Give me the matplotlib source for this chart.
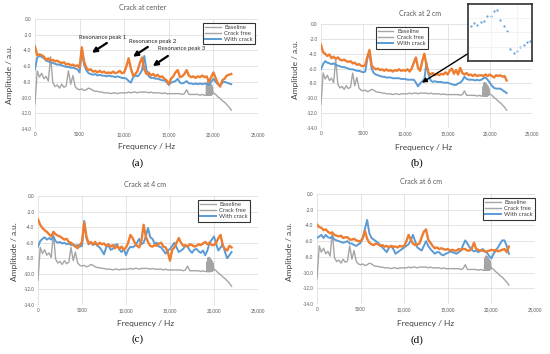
import matplotlib
matplotlib.use("Agg")
import matplotlib.pyplot as plt
import numpy as np

plt.rcParams['font.family'] = ['Lato', 'DejaVu Sans']

# frequency grid (Hz) shared by all series
freq = np.arange(0, 22001, 250)

baseline = [
    -10.8, -6.6, -7.4, -6.9, -7.6, -7.3, -7.9, -4.8, -8.1, -8.6,
    -8.4, -8.8, -8.3, -8.7, -8.5, -6.6, -8.3, -7.2, -8.6, -8.9,
    -9.0, -8.9, -9.1, -9.0, -8.8, -8.9, -9.1, -9.2, -9.2, -9.3,
    -9.3, -9.4, -9.4, -9.4, -9.5, -9.4, -9.4, -9.5, -9.4, -9.4,
    -9.4, -9.4, -9.3, -9.4, -9.3, -9.3, -9.4, -9.3, -9.3, -9.3,
    -9.3, -9.4, -9.3, -9.4, -9.4, -9.4, -9.4, -9.5, -9.4, -9.5,
    -9.5, -9.5, -9.5, -9.5, -9.5, -9.5, -9.6, -9.5, -9.0, -9.6,
    -9.6, -9.6, -9.6, -9.6, -9.7, -9.6, -9.7, -9.7, -9.7, -9.6,
    -9.4, -9.6, -9.9, -10.1, -10.4, -10.6, -10.9, -11.2, -11.6]

# dense ringing of the baseline near 19.5 kHz
burst_freq = [19200, 19230, 19260, 19290, 19320, 19350, 19380, 19410, 19440,
              19470, 19500, 19530, 19560, 19590, 19620, 19650, 19680, 19710,
              19740, 19770, 19800, 19830, 19860, 19890, 19920, 19950]
burst_amp = [-9.6, -8.4, -9.7, -8.1, -9.7, -7.9, -9.7, -7.9, -9.7, -8.0,
             -9.7, -8.0, -9.7, -8.1, -9.7, -8.2, -9.7, -8.3, -9.7, -8.4,
             -9.6, -8.5, -9.6, -8.7, -9.5, -9.3]

a_free = [
    -6.4, -4.9, -4.7, -4.8, -5.0, -5.3, -5.4, -5.5, -5.6, -5.7,
    -5.8, -5.8, -5.9, -6.0, -6.1, -6.1, -6.2, -6.2, -6.3, -6.4,
    -6.8, -4.0, -5.8, -6.5, -6.9, -7.0, -7.1, -7.0, -7.2, -7.1,
    -7.2, -7.2, -7.3, -7.2, -7.3, -7.3, -7.4, -7.3, -7.4, -7.5,
    -7.5, -7.6, -7.9, -8.1, -7.4, -7.2, -7.3, -7.0, -6.5, -4.7,
    -6.5, -7.3, -7.5, -7.5, -7.6, -7.6, -7.7, -7.8, -7.8, -8.0,
    -8.4, -8.1, -8.0, -7.9, -7.6, -8.1, -8.2, -8.1, -7.9, -8.2,
    -8.2, -8.3, -8.2, -8.3, -8.2, -8.3, -8.2, -8.3, -8.4, -8.0,
    -7.6, -8.0, -8.3, -8.5, -8.1, -8.0, -8.1, -8.2, -8.3]
a_crack = [
    -3.5, -4.6, -4.5, -4.6, -4.8, -5.2, -5.0, -5.3, -5.2, -5.4,
    -5.3, -5.5, -5.6, -5.5, -5.8, -5.7, -5.9, -5.8, -6.0, -5.9,
    -6.2, -3.6, -5.4, -6.2, -6.5, -6.4, -6.7, -6.6, -6.8, -6.6,
    -6.8, -6.7, -6.9, -6.8, -6.9, -6.7, -6.9, -6.8, -6.6, -6.9,
    -6.8, -6.0, -5.0, -6.3, -7.2, -7.0, -6.6, -5.6, -4.9, -6.4,
    -7.0, -6.8, -7.2, -7.0, -7.3, -7.1, -7.4, -7.3, -7.6, -7.8,
    -8.3, -7.6, -7.3, -6.8, -6.5, -7.4, -7.3, -7.0, -6.5, -7.2,
    -7.4, -7.3, -7.5, -7.3, -7.4, -7.2, -7.4, -7.3, -8.0, -7.4,
    -6.8, -7.5, -8.2, -8.6, -7.8, -7.6, -7.2, -7.1, -7.0]

b_free = [
    -6.1, -5.4, -5.0, -5.2, -5.3, -5.4, -5.3, -5.5, -5.6, -5.7,
    -5.8, -5.8, -5.9, -6.0, -6.1, -6.1, -6.2, -6.3, -6.3, -6.4,
    -6.5, -6.4, -4.6, -3.7, -6.0, -6.6, -6.8, -6.9, -7.0, -7.1,
    -7.1, -7.2, -7.2, -7.2, -7.3, -7.3, -7.3, -7.3, -7.4, -7.4,
    -7.4, -7.5, -7.5, -7.5, -7.5, -7.9, -8.4, -8.0, -7.7, -7.4,
    -5.2, -6.8, -7.6, -7.8, -7.7, -7.8, -7.8, -7.8, -7.9, -7.9,
    -7.9, -8.0, -8.1, -8.2, -8.2, -8.0, -7.9, -7.6, -7.1, -7.4,
    -7.5, -7.5, -7.5, -7.6, -7.5, -7.6, -7.5, -7.3, -7.2, -7.5,
    -7.9, -8.3, -8.6, -8.7, -8.7, -8.7, -8.9, -9.1, -9.3]
b_crack = [
    -2.8, -3.8, -4.0, -4.3, -4.1, -4.6, -4.4, -4.7, -4.5, -4.8,
    -4.9, -4.8, -5.0, -5.1, -5.0, -5.3, -5.2, -5.5, -5.4, -5.6,
    -5.7, -5.5, -4.4, -3.5, -5.6, -5.9, -6.1, -6.0, -6.2, -6.1,
    -6.3, -6.1, -6.3, -6.2, -6.4, -6.2, -6.3, -6.1, -6.3, -6.2,
    -6.3, -6.1, -6.4, -6.0, -5.2, -4.5, -5.9, -6.3, -5.0, -4.0,
    -5.6, -6.6, -6.8, -6.6, -6.9, -6.7, -6.9, -6.7, -6.8, -6.5,
    -6.8, -6.3, -6.0, -6.7, -6.2, -6.8, -5.9, -6.6, -6.8, -6.6,
    -6.9, -6.8, -7.0, -6.8, -7.0, -6.9, -6.9, -7.0, -6.8, -7.0,
    -6.8, -7.0, -7.2, -6.9, -7.0, -6.9, -7.1, -7.0, -7.6]

c_free = [
    -6.5, -5.8, -5.5, -5.3, -5.6, -5.4, -5.6, -5.2, -5.8, -6.0,
    -5.9, -6.1, -6.0, -6.2, -6.1, -6.3, -6.2, -6.4, -6.3, -6.5,
    -6.4, -3.2, -5.4, -6.2, -6.0, -6.3, -6.1, -6.4, -6.6, -7.0,
    -7.5, -6.6, -6.3, -6.9, -6.8, -6.3, -6.2, -6.9, -7.2, -6.8,
    -7.6, -6.9, -6.5, -6.6, -6.4, -6.0, -5.5, -6.2, -6.0, -5.2,
    -4.1, -5.3, -5.5, -6.1, -6.0, -6.5, -6.6, -7.0, -7.4, -7.0,
    -6.8, -6.4, -6.0, -6.6, -7.2, -7.0, -6.8, -6.4, -6.5, -7.0,
    -7.3, -6.9, -6.8, -7.1, -7.3, -7.0, -7.6, -7.0, -6.0, -5.6,
    -5.2, -6.2, -7.0, -6.6, -6.2, -7.2, -8.0, -7.6, -7.2]
c_crack = [
    -3.0, -3.7, -4.1, -4.4, -4.6, -4.9, -5.2, -4.6, -4.9, -5.1,
    -5.2, -5.4, -5.6, -5.5, -5.9, -6.0, -6.3, -6.5, -6.7, -6.3,
    -5.9, -3.4, -5.2, -6.1, -5.9, -6.2, -5.9, -6.3, -6.0, -6.2,
    -6.1, -6.4, -6.2, -6.5, -6.3, -6.7, -6.4, -6.8, -6.5, -6.9,
    -6.6, -6.0, -5.0, -5.4, -6.0, -6.4, -6.6, -5.8, -3.7, -5.2,
    -5.9, -6.4, -6.5, -6.3, -6.4, -6.1, -6.0, -6.5, -6.6, -7.2,
    -8.3, -6.9, -6.6, -6.0, -5.4, -6.0, -6.4, -6.3, -6.5, -6.2,
    -6.3, -6.5, -6.4, -6.2, -6.3, -6.1, -5.9, -6.2, -6.0, -6.3,
    -6.3, -6.0, -5.4, -5.0, -6.4, -6.8, -7.0, -6.4, -6.6]

d_free = [
    -5.6, -5.4, -5.2, -5.6, -5.2, -5.5, -5.6, -5.4, -5.8, -5.9,
    -6.0, -6.1, -6.2, -6.1, -6.0, -6.3, -6.3, -6.5, -6.6, -6.4,
    -6.2, -5.6, -4.4, -3.3, -5.0, -5.6, -5.8, -6.0, -6.2, -6.5,
    -6.8, -7.1, -7.4, -6.8, -6.6, -7.0, -7.6, -7.4, -7.2, -7.0,
    -6.8, -6.6, -6.4, -5.9, -5.2, -6.0, -6.8, -7.0, -7.2, -6.6,
    -6.0, -6.6, -7.0, -7.3, -7.6, -7.4, -7.4, -7.7, -7.8, -7.6,
    -7.5, -7.3, -7.4, -7.5, -7.6, -7.4, -7.2, -6.5, -5.9, -6.3,
    -6.8, -7.1, -7.3, -7.2, -7.4, -7.2, -7.0, -7.3, -7.5, -7.9,
    -8.2, -7.6, -7.2, -6.8, -6.3, -5.9, -5.9, -6.6, -7.6]
d_crack = [
    -3.9, -4.2, -4.3, -4.6, -4.5, -4.8, -5.0, -4.9, -5.2, -5.3,
    -5.4, -5.3, -5.6, -5.5, -5.5, -5.8, -5.8, -5.7, -5.9, -6.0,
    -6.0, -5.6, -4.7, -5.7, -6.2, -6.4, -6.5, -6.3, -6.4, -6.6,
    -6.5, -6.7, -6.6, -6.8, -6.6, -6.7, -6.7, -6.8, -6.6, -6.7,
    -6.6, -6.0, -5.2, -5.8, -6.3, -6.5, -6.4, -6.3, -5.5, -4.8,
    -4.5, -5.8, -6.2, -6.6, -6.9, -6.8, -7.0, -6.9, -7.0, -7.1,
    -7.0, -7.2, -7.1, -7.2, -7.2, -7.0, -7.1, -7.0, -7.0, -7.2,
    -7.2, -6.9, -6.2, -7.0, -7.1, -7.2, -7.2, -7.3, -7.3, -7.2,
    -7.1, -7.2, -7.1, -7.3, -7.2, -7.1, -7.0, -7.4, -6.7]

# zoomed detail shown in the inset of panel (b)
inset_freq = [11600, 11625, 11650, 11675, 11700, 11725, 11750, 11775, 11800,
              11825, 11850, 11875, 11900, 11925, 11950, 11975, 12000, 12025, 12050]
inset_amp = [-7.86, -7.80, -7.84, -7.79, -7.75, -7.65, -7.65, -7.56, -7.53,
             -7.73, -7.86, -7.97, -8.34, -8.44, -8.39, -8.30, -8.26, -8.21, -8.18]

titles = ['Crack at center', 'Crack at 2 cm', 'Crack at 4 cm', 'Crack at 6 cm']
letters = ['(a)', '(b)', '(c)', '(d)']
series_names = ['Baseline', 'Crack free', 'With crack']
xticks = [0, 5000, 10000, 15000, 20000, 25000]
xtick_labels = ['0', '5000', '10,000', '15,000', '20,000', '25,000']
yticks = [0, -2, -4, -6, -8, -10, -12, -14]
ytick_labels = ['0.0', '-2.0', '-4.0', '-6.0', '-8.0', '-10.0', '-12.0', '-14.0']

GRAY = '#a5a5a5'
BLUE = '#5b9bd5'
ORANGE = '#ed7d31'
TXT = '#595959'

fig = plt.figure(figsize=(5.5, 3.54), dpi=100)


def panel(rect, free, crack, title, letter, title_xy, ylab_xy, xlab_xy, let_xy, leg_anchor, leg_loc):
    ax = fig.add_axes(rect)
    ax.plot(freq, baseline, color=GRAY, lw=1.0)
    ax.plot(burst_freq, burst_amp, color=GRAY, lw=1.0)
    ax.plot(freq, free, color=BLUE, lw=1.4)
    ax.plot(freq, crack, color=ORANGE, lw=1.7)
    ax.set_xlim(0, 25000)
    ax.set_ylim(-14, 0)
    ax.set_xticks(xticks)
    ax.set_xticklabels(xtick_labels)
    ax.set_yticks(yticks)
    ax.set_yticklabels(ytick_labels)
    ax.tick_params(labelsize=3.3, colors=TXT, length=0, pad=2.5)
    ax.grid(True, color='#d9d9d9', lw=0.5)
    ax.set_axisbelow(True)
    for s in ax.spines.values():
        s.set_visible(False)
    leg = ax.legend(series_names, loc=leg_loc, bbox_to_anchor=leg_anchor,
                    fontsize=4.3, frameon=True, fancybox=False, edgecolor='black',
                    handlelength=2.6, borderpad=0.35, labelspacing=0.15,
                    handletextpad=0.6, borderaxespad=0)
    leg.get_frame().set_linewidth(0.8)
    for t in leg.get_texts():
        t.set_color('#404040')
    fig.text(title_xy[0], title_xy[1], title, fontsize=5, color=TXT, ha='center', va='center')
    fig.text(ylab_xy[0], ylab_xy[1], 'Amplitude / a.u.', fontsize=6, color='#404040',
             rotation=90, ha='center', va='center')
    fig.text(xlab_xy[0], xlab_xy[1], 'Frequency / Hz', fontsize=6, color='#404040',
             ha='center', va='center')
    fig.text(let_xy[0], let_xy[1], letter, fontsize=8, family='Liberation Serif',
             ha='center', va='center')
    return ax


ax_a = panel([0.0636, 0.6356, 0.4055, 0.3107], a_free, a_crack, titles[0], letters[0],
             (0.26, 0.980), (0.018, 0.788), (0.267, 0.585), (0.251, 0.540),
             (0.987, 0.964), 'upper right')
ax_b = panel([0.5836, 0.6384, 0.3836, 0.2938], b_free, b_crack, titles[1], letters[1],
             (0.764, 0.963), (0.538, 0.802), (0.771, 0.582), (0.758, 0.540),
             (0.26, 0.971), 'upper left')
ax_c = panel([0.0691, 0.1384, 0.4000, 0.3079], c_free, c_crack, titles[2], letters[2],
             (0.264, 0.480), (0.027, 0.288), (0.264, 0.085), (0.251, 0.042),
             (0.964, 0.963), 'upper right')
ax_d = panel([0.5764, 0.1412, 0.3964, 0.3107], d_free, d_crack, titles[3], letters[3],
             (0.766, 0.486), (0.527, 0.288), (0.773, 0.085), (0.758, 0.040),
             (1.0, 0.964), 'upper right')

# resonance peak annotations in (a)
peak_text = ['Resonance peak 1', 'Resonance peak 2', 'Resonance peak 3']
text_pos = [(7600, -2.4), (13200, -2.8), (16500, -3.8)]
arrow_tail = [(8060, -3.05), (12650, -3.55), (14900, -4.7)]
arrow_head = [(6380, -4.3), (10980, -4.8), (13200, -6.0)]
for txt, tp, tail, head in zip(peak_text, text_pos, arrow_tail, arrow_head):
    ax_a.text(tp[0], tp[1], txt, fontsize=4.3, color='#262626', ha='center', va='center')
    ax_a.annotate('', xy=head, xytext=tail,
                  arrowprops=dict(arrowstyle='-|>', color='black', lw=1.6,
                                  mutation_scale=7, shrinkA=0, shrinkB=0))

# arrow from inset to the detail in (b)
ax_b.annotate('', xy=(11970, -7.9), xytext=(18100, -3.5),
              arrowprops=dict(arrowstyle='-|>', color='black', lw=1.0,
                              mutation_scale=7, shrinkA=0, shrinkB=0))

ins = fig.add_axes([0.851, 0.828, 0.116, 0.161])
ins.scatter(inset_freq, inset_amp, s=0.35, color=BLUE)
ins.set_xlim(11580, 12063)
ins.set_ylim(-8.6, -7.4)
ins.set_xticks([11750, 11950])
ins.set_yticks([-7.7, -8.0, -8.3])
ins.tick_params(labelbottom=False, labelleft=False, length=0)
ins.grid(True, color='#eeeeee', lw=0.5)
ins.set_facecolor('white')
for s in ins.spines.values():
    s.set_color('#303030')
    s.set_linewidth(1.2)

fig.savefig('out.png', dpi=100)
